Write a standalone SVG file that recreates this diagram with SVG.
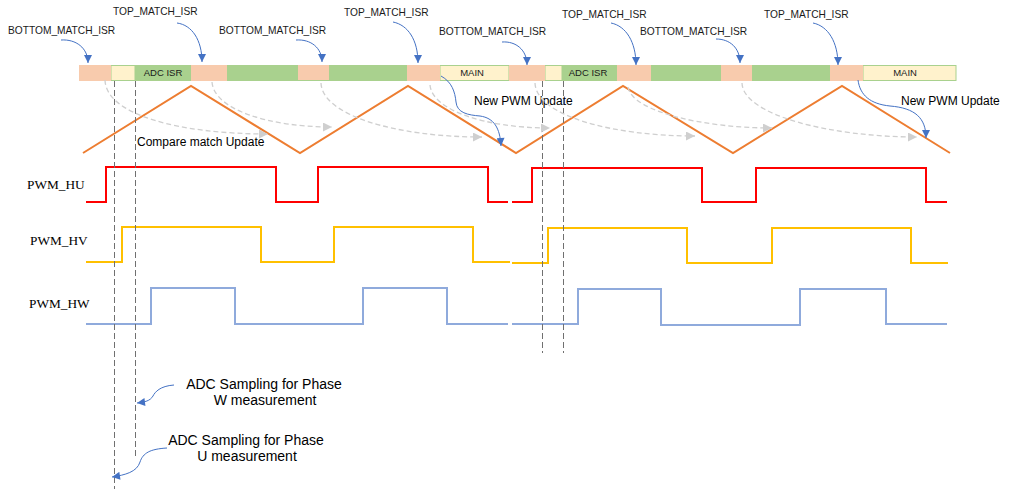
<svg xmlns="http://www.w3.org/2000/svg" width="1009" height="489" viewBox="0 0 1009 489">
<style>
.lbl{font-family:"Liberation Sans",Arial,sans-serif;font-size:10.2px;fill:#1a1a1a}
.bar{font-family:"Liberation Sans",Arial,sans-serif;font-size:9.5px;fill:#1a1a1a;text-anchor:middle}
.note{font-family:"Liberation Sans",Arial,sans-serif;font-size:12px;fill:#000}
.big{font-family:"Liberation Sans",Arial,sans-serif;font-size:14px;fill:#000;text-anchor:middle}
.sig{font-family:"Liberation Serif","Times New Roman",serif;font-size:13.3px;fill:#000}
.or{fill:#F8CBAD}
.gr{fill:#A9D18E}
.ye{fill:#FFF2CC;stroke:#A9D18E;stroke-width:1}
.blue{fill:none;stroke:#4472C4;stroke-width:1;marker-end:url(#bh)}
.gray{fill:none;stroke:#CFCFCF;stroke-width:1.3;stroke-dasharray:5 3;marker-end:url(#gh)}
.vd{stroke:#707070;stroke-width:1;stroke-dasharray:6 3}
.w{fill:none;stroke-width:2;stroke-linejoin:miter}
</style>
<defs>
<marker id="bh" viewBox="0 0 10 10" refX="10" refY="5" markerWidth="9" markerHeight="8" markerUnits="userSpaceOnUse" orient="auto"><path d="M0,0 L10,5 L0,10 z" fill="#4472C4"/></marker>
<marker id="gh" viewBox="0 0 10 10" refX="10" refY="5" markerWidth="10" markerHeight="9" markerUnits="userSpaceOnUse" orient="auto"><path d="M0,0 L10,5 L0,10 z" fill="#CFCFCF"/></marker>
</defs>
<rect width="1009" height="489" fill="#fff"/>

<g id="timeline-bar">
<rect class="gr" x="79" y="65" width="877" height="16"/>
<rect class="ye" x="111" y="65.5" width="24" height="15"/>
<rect class="ye" x="440" y="65.5" width="69" height="15"/>
<rect class="ye" x="545" y="65.5" width="17" height="15"/>
<rect class="ye" x="863" y="65.5" width="93" height="15"/>
<rect class="or" x="79" y="65" width="32" height="16"/>
<rect class="or" x="191" y="65" width="36" height="16"/>
<rect class="or" x="298" y="65" width="31" height="15"/>
<rect class="or" x="407" y="65" width="33" height="16"/>
<rect class="or" x="509" y="65" width="36" height="16"/>
<rect class="or" x="617" y="65" width="34" height="16"/>
<rect class="or" x="721" y="65" width="31" height="16"/>
<rect class="or" x="830" y="65" width="33" height="16"/>
<text class="bar" x="163" y="76">ADC ISR</text>
<text class="bar" x="472" y="76">MAIN</text>
<text class="bar" x="588" y="76">ADC ISR</text>
<text class="bar" x="905" y="76">MAIN</text>
</g>

<g id="labels">
<text class="lbl" x="8" y="34">BOTTOM_MATCH_ISR</text>
<text class="lbl" x="113" y="15">TOP_MATCH_ISR</text>
<text class="lbl" x="219" y="34">BOTTOM_MATCH_ISR</text>
<text class="lbl" x="344" y="16">TOP_MATCH_ISR</text>
<text class="lbl" x="439" y="35">BOTTOM_MATCH_ISR</text>
<text class="lbl" x="562" y="18">TOP_MATCH_ISR</text>
<text class="lbl" x="640" y="35">BOTTOM_MATCH_ISR</text>
<text class="lbl" x="764" y="18">TOP_MATCH_ISR</text>
<text class="note" x="137" y="146">Compare match Update</text>
<text class="note" x="474" y="105">New PWM Update</text>
<text class="note" x="901" y="105">New PWM Update</text>
<text class="sig" x="27" y="189">PWM_HU</text>
<text class="sig" x="30" y="245">PWM_HV</text>
<text class="sig" x="29" y="308">PWM_HW</text>
<text class="big" x="264" y="389">ADC Sampling for Phase</text>
<text class="big" x="265" y="405">W measurement</text>
<text class="big" x="246" y="445">ADC Sampling for Phase</text>
<text class="big" x="247" y="461">U measurement</text>
</g>

<g id="carrier">
<polyline class="w" stroke="#ED7D31" points="83,153 191,86 300,153 408,86 516,153 623,86 733,153 842,86 950,153"/>
</g>

<g id="pwm-signals">
<polyline class="w" stroke="#FF0000" points="86,202 106,202 106,167 276,167 276,202 318,202 318,167 488,167 488,202 508,202"/>
<polyline class="w" stroke="#FF0000" points="512,202 532,202 532,168 702,168 702,202 756,202 756,168 926,168 926,202 947,202"/>
<polyline class="w" stroke="#FFC000" points="86,262 122,262 122,227 261,227 261,262 334,262 334,227 473,227 473,262 510,262"/>
<polyline class="w" stroke="#FFC000" points="512,263 548,263 548,228 687,228 687,263 772,263 772,228 911,228 911,263 948,263"/>
<polyline class="w" stroke="#8FAADC" points="86,324 151,324 151,288 235,288 235,324 363,324 363,288 447,288 447,324 508,324"/>
<polyline class="w" stroke="#8FAADC" points="512,324 578,324 578,289 661,289 661,325 800,325 800,289 886,289 886,324 947,324"/>
</g>

<g id="connectors">
<line class="vd" x1="114.5" y1="81" x2="114.5" y2="489"/>
<line class="vd" x1="135.5" y1="81" x2="135.5" y2="457"/>
<line class="vd" x1="542.5" y1="81" x2="542.5" y2="353"/>
<line class="vd" x1="563.5" y1="81" x2="563.5" y2="353"/>

<path class="gray" d="M105 80 C106 115, 180 134, 268 134"/>
<path class="gray" d="M212 82 C214 110, 270 127, 332 127"/>
<path class="gray" d="M321 83 C322 115, 395 137, 482 137"/>
<path class="gray" d="M430 85 C432 110, 485 128, 550 128"/>
<path class="gray" d="M535 83 C536 115, 610 136, 695 136"/>
<path class="gray" d="M628 87 C632 112, 705 128, 772 128"/>
<path class="gray" d="M742 83 C743 115, 830 137, 917 137"/>

<path class="blue" d="M61 40 C76 39, 88 48, 88 63"/>
<path class="blue" d="M177 23 C192 25, 202 40, 202 62"/>
<path class="blue" d="M296 40 C311 39, 322 48, 322 62"/>
<path class="blue" d="M393 22 C408 25, 418 40, 418 63"/>
<path class="blue" d="M502 42 C516 41, 527 50, 527 65"/>
<path class="blue" d="M611 23 C626 26, 636 42, 636 65"/>
<path class="blue" d="M716 39 C730 39, 740 48, 740 63"/>
<path class="blue" d="M813 23 C828 26, 838 42, 838 65"/>

<path class="blue" d="M441 76 C452 82, 455 92, 456 102 C457 113, 468 115, 480 116 C494 118, 500 128, 501 146"/>
<path class="blue" d="M858 80 C860 95, 870 104, 890 106 C915 108, 926 118, 926 138"/>

<path class="blue" d="M174 385 C160 386, 155 392, 153 396 C150 401, 145 402, 137 403"/>
<path class="blue" d="M167 448 C150 449, 143 453, 140 462 C137 472, 125 475, 112 477"/>
</g>
</svg>
